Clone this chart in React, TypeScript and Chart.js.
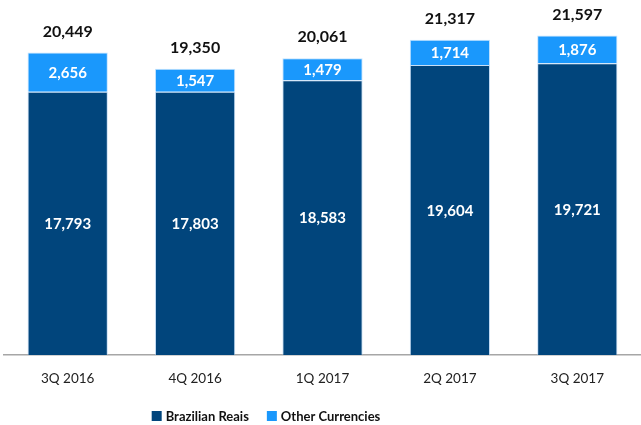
import React, { useEffect, useRef } from "react";
import { Chart, registerables } from "chart.js";

Chart.register(...registerables);

const categories = ["3Q 2016", "4Q 2016", "1Q 2017", "2Q 2017", "3Q 2017"];
const brazilianReais = [17793, 17803, 18583, 19604, 19721];
const otherCurrencies = [2656, 1547, 1479, 1714, 1876];
const totals = [20449, 19350, 20061, 21317, 21597];

const DARK = "#01457c";
const LIGHT = "#1a98fc";
const FONT = "Lato, 'Open Sans', sans-serif";

const fmt = (v: number) => v.toLocaleString("en-US");

const labelPlugin = {
  id: "valueLabels",
  afterDatasetsDraw(chart: any) {
    const ctx = chart.ctx;
    ctx.save();
    ctx.textAlign = "center";
    ctx.textBaseline = "middle";
    chart.data.datasets.forEach((ds: any, di: number) => {
      const meta = chart.getDatasetMeta(di);
      meta.data.forEach((bar: any, i: number) => {
        const { x, y, base } = bar.getProps(["x", "y", "base"], true);
        ctx.fillStyle = "#ffffff";
        ctx.font = `bold 15px ${FONT}`;
        ctx.fillText(fmt(ds.data[i]), x, (y + base) / 2 + 1);
      });
    });
    const top = chart.getDatasetMeta(chart.data.datasets.length - 1);
    top.data.forEach((bar: any, i: number) => {
      const { x, y } = bar.getProps(["x", "y"], true);
      ctx.fillStyle = "#111111";
      ctx.font = `bold 16px ${FONT}`;
      ctx.fillText(fmt(totals[i]), x, y - 21);
    });
    ctx.restore();
  },
  afterDraw(chart: any) {
    // legend
    const ctx = chart.ctx;
    ctx.save();
    ctx.font = `bold 13px ${FONT}`;
    ctx.textBaseline = "middle";
    ctx.textAlign = "left";
    const box = 10;
    const gapText = 4;
    const gapItem = 18;
    const items = chart.data.datasets.map((ds: any) => ({
      label: ds.label,
      color: ds.backgroundColor,
      w: box + gapText + ctx.measureText(ds.label).width,
    }));
    const total = items.reduce((s: number, it: any) => s + it.w, 0) + gapItem * (items.length - 1);
    const cx = 266;
    const cy = 416;
    let x = cx - total / 2;
    items.forEach((it: any) => {
      ctx.fillStyle = it.color;
      ctx.fillRect(x, cy - box / 2, box, box);
      ctx.fillStyle = "#111111";
      ctx.fillText(it.label, x + box + gapText, cy + 1);
      x += it.w + gapItem;
    });
    ctx.restore();
  },
};

export default function App() {
  const ref = useRef<HTMLCanvasElement | null>(null);
  useEffect(() => {
    document.body.style.margin = "0";
    const chart = new Chart(ref.current as HTMLCanvasElement, {
      type: "bar",
      data: {
        labels: categories,
        datasets: [
          {
            label: "Brazilian Reais",
            data: brazilianReais,
            backgroundColor: DARK,
            borderColor: "rgba(160,200,240,0.6)",
            borderWidth: 1,
            barPercentage: 0.63,
            categoryPercentage: 1,
          },
          {
            label: "Other Currencies",
            data: otherCurrencies,
            backgroundColor: LIGHT,
            borderColor: "rgba(180,220,255,0.8)",
            borderWidth: 1,
            barPercentage: 0.63,
            categoryPercentage: 1,
          },
        ],
      },
      options: {
        responsive: false,
        animation: false,
        layout: { padding: { left: 4, right: 0, top: 0, bottom: 18 } },
        scales: {
          x: {
            stacked: true,
            grid: { display: false },
            border: { display: true, color: "#a6a6a6", width: 1.5 },
            ticks: { color: "#222", font: { size: 13.5, family: FONT }, padding: 8 },
            afterFit: (scale: any) => {
              scale.height = 52;
            },
          },
          y: {
            stacked: true,
            display: false,
            min: 0,
            max: 24000,
          },
        },
        plugins: {
          legend: { display: false },
          tooltip: { enabled: false },
        },
      },
      plugins: [labelPlugin],
    });
    return () => chart.destroy();
  }, []);
  return (
    <div style={{ position: "absolute", left: 0, top: 0, width: 641, height: 425 }}>
      <canvas ref={ref} width={641} height={425} />
    </div>
  );
}
